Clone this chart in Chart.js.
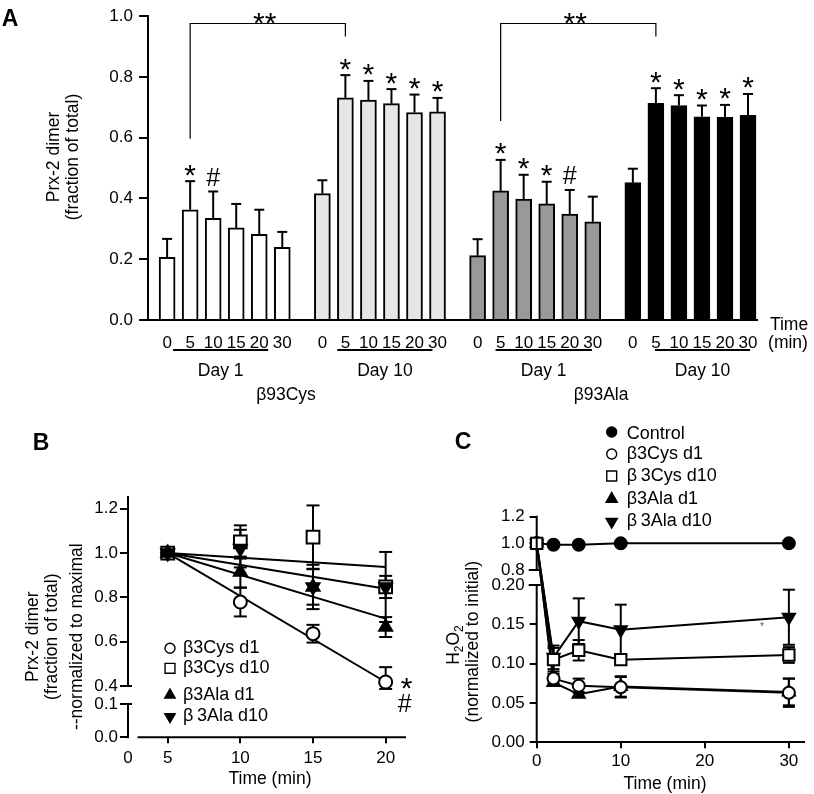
<!DOCTYPE html>
<html>
<head>
<meta charset="utf-8">
<script src="https://cdn.jsdelivr.net/npm/chart.js@4.4.1/dist/chart.umd.min.js"></script>
<style>
  body { margin: 0; background: #fff; width: 814px; height: 794px; position: relative; overflow: hidden; }
  canvas { position: absolute; }
</style>
</head>
<body>
<canvas id="chartA" width="814" height="420" style="left:0;top:0"></canvas>
<canvas id="chartB" width="420" height="374" style="left:0;top:420px"></canvas>
<canvas id="chartC" width="394" height="374" style="left:420px;top:420px"></canvas>
<script>
// ---------- Panel A: Prx-2 dimer bars ----------
const timeLabels = ['0', '5', '10', '15', '20', '30'];
const groupLabels = ['β93Cys', 'β93Ala'];
const dayLabels = ['Day 1', 'Day 10', 'Day 1', 'Day 10'];

const cysDay1 = [0.206, 0.363, 0.335, 0.303, 0.282, 0.239];
const cysDay1Err = [0.061, 0.094, 0.088, 0.079, 0.081, 0.051];
const cysDay10 = [0.416, 0.731, 0.724, 0.712, 0.683, 0.685];
const cysDay10Err = [0.044, 0.075, 0.063, 0.048, 0.059, 0.046];
const alaDay1 = [0.212, 0.425, 0.398, 0.382, 0.349, 0.323];
const alaDay1Err = [0.054, 0.102, 0.080, 0.073, 0.079, 0.083];
const alaDay10 = [0.452, 0.713, 0.706, 0.669, 0.667, 0.674];
const alaDay10Err = [0.046, 0.050, 0.034, 0.037, 0.041, 0.070];

const sigCysDay1 = ['', '*', '#', '', '', ''];
const sigCysDay10 = ['', '*', '*', '*', '*', '*'];
const sigAlaDay1 = ['', '*', '*', '*', '#', ''];
const sigAlaDay10 = ['', '*', '*', '*', '*', '*'];

// ---------- Panel B: decay after maximum ----------
const bTimes = [5, 10, 15, 20];
const bCysD1 = [1.0, 0.779, 0.636, 0.418];
const bCysD1Err = [0, 0.065, 0.04, 0.067];
const bCysD10 = [1.0, 1.05, 1.072, 0.847];
const bCysD10Err = [0, 0.075, 0.143, 0.158];
const bAlaD1 = [1.0, 0.914, 0.847, 0.666];
const bAlaD1Err = [0, 0.07, 0.08, 0.045];
const bAlaD10 = [1.0, 1.02, 0.847, 0.847];
const bAlaD10Err = [0, 0.085, 0.1, 0.05];
const bFitTimes = [5, 20];
const bFitCysD1 = [1.0, 0.418];
const bFitCysD10 = [1.0, 0.937];
const bFitAlaD1 = [1.0, 0.704];
const bFitAlaD10 = [1.0, 0.839];
const bXTicks = [0, 5, 10, 15, 20];
const bYTicks = [0, 0.1, 0.4, 0.6, 0.8, 1.0, 1.2];

// ---------- Panel C: H2O2 ----------
const cTimes = [0, 2, 5, 10, 30];
const cControl = [1.0, 0.99, 0.99, 1.0, 1.0];
const cCysD1 = [1.0, 0.081, 0.072, 0.070, 0.063];
const cCysD1Err = [0, 0.006, 0.009, 0.013, 0.018];
const cCysD10 = [1.0, 0.105, 0.117, 0.105, 0.111];
const cCysD10Err = [0, 0.015, 0.013, 0.003, 0.01];
const cAlaD1 = [1.0, 0.076, 0.061, 0.071, 0.064];
const cAlaD1Err = [0, 0.004, 0.003, 0.013, 0.017];
const cAlaD10 = [1.0, 0.108, 0.154, 0.143, 0.159];
const cAlaD10Err = [0, 0.015, 0.029, 0.032, 0.035];
const cXTicks = [0, 10, 20, 30];
const cYTicks = [0, 0.05, 0.1, 0.15, 0.2, 0.8, 1.0, 1.2];

const FONT = "'Liberation Sans', Arial, Helvetica, sans-serif";
Chart.defaults.font.family = FONT;
Chart.defaults.font.size = 17;
Chart.defaults.color = '#000';
Chart.defaults.animation = false;
Chart.defaults.events = [];
Chart.defaults.plugins.legend.display = false;
Chart.defaults.plugins.tooltip.enabled = false;

// linear scale with piecewise mapping, for the broken axes in B and C
class BrokenScale extends Chart.LinearScale {
    static id = 'broken';
    toDecimal(v) {
        const k = this.options.knots;
        let i = 1;
        while (i < k.length - 1 && v > k[i][0]) i++;
        const [v0, d0] = k[i - 1], [v1, d1] = k[i];
        return d0 + (v - v0) * (d1 - d0) / (v1 - v0);
    }
    getPixelForValue(v) {
        if (v === null || v === undefined || isNaN(v)) return NaN;
        return this.getPixelForDecimal(this.toDecimal(v));
    }
    getValueForPixel(p) {
        const d = this.getDecimalForPixel(p);
        const k = this.options.knots;
        let i = 1;
        while (i < k.length - 1 && d > k[i][1]) i++;
        const [v0, d0] = k[i - 1], [v1, d1] = k[i];
        return v0 + (d - d0) * (v1 - v0) / (d1 - d0);
    }
}
Chart.register(BrokenScale);

// ---------- drawing helpers ----------
function line(ctx, x1, y1, x2, y2) {
    ctx.beginPath(); ctx.moveTo(x1, y1); ctx.lineTo(x2, y2); ctx.stroke();
}
// draw text with its ink centred on (x, yc)
function inkText(ctx, s, x, yc, font, align) {
    ctx.font = font;
    ctx.textAlign = align || 'center';
    ctx.textBaseline = 'alphabetic';
    const m = ctx.measureText(s);
    ctx.fillText(s, x, yc + (m.actualBoundingBoxAscent - m.actualBoundingBoxDescent) / 2);
}
function rotText(ctx, s, xc, yc, font) {
    ctx.save(); ctx.translate(xc, yc); ctx.rotate(-Math.PI / 2);
    inkText(ctx, s, 0, 0, font);
    ctx.restore();
}
function drawSegments(chart, id) {
    const s = chart.scales[id], ctx = chart.ctx;
    const lo = s.options.min, hi = s.options.max;
    ctx.save();
    ctx.strokeStyle = '#000'; ctx.lineWidth = 2;
    s.options.segs.forEach(([a, b]) => {
        if (s.isHorizontal()) {
            line(ctx, s.getPixelForValue(a), s.top, s.getPixelForValue(b), s.top);
        } else {
            const x = s.right;
            line(ctx, x, s.getPixelForValue(a) + 1, x, s.getPixelForValue(b) - 1);
            [a, b].forEach(v => {
                if (v > lo && v < hi) line(ctx, x - 8, s.getPixelForValue(v), x + 4, s.getPixelForValue(v));
            });
        }
    });
    ctx.restore();
}
function errorBars(chart, times, vals, errs, cap) {
    const {ctx, scales: {x, y}} = chart;
    ctx.save();
    ctx.strokeStyle = '#000'; ctx.lineWidth = 2;
    vals.forEach((v, i) => {
        if (!errs[i]) return;
        const px = x.getPixelForValue(times[i]);
        const yt = y.getPixelForValue(v + errs[i]), yb = y.getPixelForValue(v - errs[i]);
        line(ctx, px, yt, px, yb);
        line(ctx, px - cap, yt, px + cap, yt);
        line(ctx, px - cap, yb, px + cap, yb);
    });
    ctx.restore();
}
function legendMarker(ctx, st, x, y, r) {
    ctx.save();
    ctx.fillStyle = st.fill; ctx.strokeStyle = '#000'; ctx.lineWidth = 1.4;
    Chart.helpers.drawPoint(ctx, {pointStyle: st.pointStyle, rotation: st.rotation || 0, radius: r, borderWidth: 1.4}, x, y);
    ctx.restore();
}

// ---------- Panel A ----------
const STEP = 6.74;                       // distance between group starts, in bar slots
const barPos = (g, i) => g * STEP + i;
const groupsA = [
    {vals: cysDay1, err: cysDay1Err, sig: sigCysDay1, color: '#ffffff'},
    {vals: cysDay10, err: cysDay10Err, sig: sigCysDay10, color: '#e6e6e6'},
    {vals: alaDay1, err: alaDay1Err, sig: sigAlaDay1, color: '#999999'},
    {vals: alaDay10, err: alaDay10Err, sig: sigAlaDay10, color: '#000000'}
];
const allBarPos = groupsA.flatMap((grp, g) => grp.vals.map((v, i) => barPos(g, i)));
const dayLineSpan = [[0.26, 4.39], [0.65, 4.78], [0.78, 4.96], [0.96, 5.09]];
const groupLabelPos = [5.16, 18.84];
const brackets = [
    {from: barPos(0, 1), to: barPos(1, 1), left: 0.597, top: 0.976, right: 0.933},
    {from: barPos(2, 1), to: barPos(3, 1), left: 0.655, top: 0.976, right: 0.933}
];

const panelA = {
    id: 'panelA',
    afterDatasetsDraw(chart) {
        const {ctx, scales: {x, y}} = chart;
        ctx.save();
        ctx.strokeStyle = '#000'; ctx.fillStyle = '#000';
        groupsA.forEach((grp, g) => grp.vals.forEach((v, i) => {
            const px = x.getPixelForValue(barPos(g, i));
            const top = y.getPixelForValue(v + grp.err[i]);
            ctx.lineWidth = 2;
            line(ctx, px, y.getPixelForValue(v), px, top);
            line(ctx, px - 5, top, px + 5, top);
            if (grp.sig[i] === '*') inkText(ctx, '*', px, top - 11, `30px ${FONT}`);
            if (grp.sig[i] === '#') inkText(ctx, '#', px, top - 14.5, `25px ${FONT}`);
        }));
        ctx.lineWidth = 1.2;
        brackets.forEach(b => {
            const x1 = x.getPixelForValue(b.from), x2 = x.getPixelForValue(b.to);
            const yt = y.getPixelForValue(b.top);
            ctx.beginPath();
            ctx.moveTo(x1, y.getPixelForValue(b.left)); ctx.lineTo(x1, yt);
            ctx.lineTo(x2, yt); ctx.lineTo(x2, y.getPixelForValue(b.right));
            ctx.stroke();
            inkText(ctx, '**', (x1 + x2) / 2 - 3, yt - 5, `30px ${FONT}`);
        });
        ctx.lineWidth = 1.8;
        dayLineSpan.forEach(([a, b], g) => {
            const x1 = x.getPixelForValue(g * STEP + a), x2 = x.getPixelForValue(g * STEP + b);
            line(ctx, x1, x.top + 30, x2, x.top + 30);
            inkText(ctx, dayLabels[g], (x1 + x2) / 2, x.top + 51, `17.5px ${FONT}`);
        });
        groupLabels.forEach((s, k) => inkText(ctx, s, x.getPixelForValue(groupLabelPos[k]), x.top + 75, `17.5px ${FONT}`));
        inkText(ctx, 'Time', 789, x.top + 3, `17.5px ${FONT}`);
        inkText(ctx, '(min)', 788, x.top + 23, `17.5px ${FONT}`);
        rotText(ctx, 'Prx-2 dimer', 52, 157, `17.5px ${FONT}`);
        rotText(ctx, '(fraction of total)', 73, 157, `17.5px ${FONT}`);
        inkText(ctx, 'A', 10, 17.5, `bold 23px ${FONT}`);
        ctx.restore();
    }
};

new Chart(document.getElementById('chartA'), {
    type: 'bar',
    data: {
        datasets: groupsA.map((grp, g) => ({
            data: grp.vals.map((v, i) => ({x: barPos(g, i), y: v})),
            backgroundColor: grp.color,
            borderColor: '#000',
            borderWidth: 2,
            barThickness: 16,
            grouped: false
        }))
    },
    options: {
        responsive: false,
        layout: {padding: {left: 0, right: 57, top: 10, bottom: 0}},
        scales: {
            x: {
                type: 'linear', min: -0.83, max: 25.61, offset: false,
                afterBuildTicks: s => { s.ticks = allBarPos.map(v => ({value: v})); },
                ticks: {autoSkip: false, maxRotation: 0, padding: 5, callback: (v, i) => timeLabels[i % 6]},
                grid: {display: false, offset: false},
                border: {display: true, color: '#000', width: 2},
                afterFit: s => { s.height = 100; }
            },
            y: {
                type: 'linear', min: 0, max: 1,
                ticks: {stepSize: 0.2, padding: 6, callback: v => v.toFixed(1)},
                grid: {drawOnChartArea: false, tickLength: 9, color: '#000', lineWidth: 2},
                border: {display: true, color: '#000', width: 2},
                afterFit: s => { s.width = 148; }
            }
        }
    },
    plugins: [panelA]
});

// ---------- Panel B ----------
const markerCysD1 = {pointStyle: 'circle', fill: '#fff', r: 6.5};
const markerCysD10 = {pointStyle: 'rect', fill: '#fff', r: 9};
const markerAlaD1 = {pointStyle: 'triangle', fill: '#000', r: 7.5, rotation: 0};
const markerAlaD10 = {pointStyle: 'triangle', fill: '#000', r: 7.5, rotation: 180};
const markerControl = {pointStyle: 'circle', fill: '#000', r: 6.5};

const bSeries = [
    {vals: bAlaD10, err: bAlaD10Err, st: markerAlaD10},
    {vals: bAlaD1, err: bAlaD1Err, st: markerAlaD1},
    {vals: bCysD10, err: bCysD10Err, st: markerCysD10},
    {vals: bCysD1, err: bCysD1Err, st: markerCysD1}
];
const bFits = [bFitCysD1, bFitCysD10, bFitAlaD1, bFitAlaD10];
const bLegend = [
    {text: 'β3Cys d1', st: markerCysD1, r: 5, y: 228.3},
    {text: 'β3Cys d10', st: markerCysD10, r: 7, y: 248.3},
    {text: 'β3Ala d1', st: markerAlaD1, r: 6, y: 275},
    {text: 'β\u20093Ala d10', st: markerAlaD10, r: 6, y: 296.7}
];

const panelB = {
    id: 'panelB',
    beforeDatasetsDraw(chart) {
        bSeries.forEach(s => errorBars(chart, bTimes, s.vals, s.err, 6.5));
    },
    afterDraw(chart) {
        const ctx = chart.ctx;
        drawSegments(chart, 'x');
        drawSegments(chart, 'y');
        ctx.save();
        ctx.fillStyle = '#000';
        bLegend.forEach(e => {
            legendMarker(ctx, e.st, 170, e.y, e.r);
            inkText(ctx, e.text, 183, e.y, `18px ${FONT}`, 'left');
        });
        const xs = chart.scales.x, ys = chart.scales.y;
        inkText(ctx, '*', xs.getPixelForValue(20) + 21, ys.getPixelForValue(bCysD1[3]) + 1, `30px ${FONT}`);
        inkText(ctx, '#', xs.getPixelForValue(20) + 19, ys.getPixelForValue(bCysD1[3]) + 21, `25px ${FONT}`);
        inkText(ctx, 'Time (min)', 270, 359, `17.5px ${FONT}`);
        rotText(ctx, 'Prx-2 dimer', 31.7, 216.7, `17.5px ${FONT}`);
        rotText(ctx, '(fraction of total)', 52.3, 216.7, `17.5px ${FONT}`);
        rotText(ctx, '--normalized to maximal', 75, 216.7, `17.5px ${FONT}`);
        inkText(ctx, 'B', 41, 21, `bold 23px ${FONT}`);
        ctx.restore();
    }
};

new Chart(document.getElementById('chartB'), {
    type: 'line',
    data: {
        datasets: [
            ...bSeries.map((s, k) => ({
                data: s.vals.map((v, i) => ({x: bTimes[i], y: v})),
                showLine: false,
                pointStyle: s.st.pointStyle,
                rotation: s.st.rotation || 0,
                pointRadius: s.st.r,
                pointBackgroundColor: s.st.fill,
                pointBorderColor: '#000',
                pointBorderWidth: 2,
                order: k,
                clip: false
            })),
            ...bFits.map(f => ({
                data: f.map((v, i) => ({x: bFitTimes[i], y: v})),
                borderColor: '#000',
                borderWidth: 2,
                pointRadius: 0,
                tension: 0,
                order: 10,
                clip: false
            }))
        ]
    },
    options: {
        responsive: false,
        layout: {padding: {left: 0, right: 14, top: 77, bottom: 0}},
        scales: {
            x: {
                type: 'broken', min: 0, max: 21.4,
                knots: [[0, 0], [5, 0.1428], [21.4, 1]],
                segs: [[1.2, 21.4]],
                afterBuildTicks: s => { s.ticks = bXTicks.map(v => ({value: v})); },
                ticks: {autoSkip: false, maxRotation: 0, padding: 4.5, callback: v => String(v)},
                grid: {drawOnChartArea: false, tickLength: 6, lineWidth: 2,
                       color: c => (c.tick && c.tick.value === 0) ? 'rgba(0,0,0,0)' : '#000'},
                border: {display: false},
                afterFit: s => { s.height = 56.7; }
            },
            y: {
                type: 'broken', min: 0, max: 1.253,
                knots: [[0, 0], [0.1, 0.1386], [0.4, 0.2135], [1.253, 1]],
                segs: [[0, 0.1], [0.4, 1.253]],
                afterBuildTicks: s => { s.ticks = bYTicks.map(v => ({value: v})); },
                ticks: {padding: 2, callback: v => v.toFixed(1)},
                grid: {drawOnChartArea: false, tickLength: 8, color: '#000', lineWidth: 2},
                border: {display: false},
                afterFit: s => { s.width = 128; }
            }
        }
    },
    plugins: [panelB]
});

// ---------- Panel C ----------
const cSeries = [
    {vals: cCysD10, err: cCysD10Err, st: markerCysD10},
    {vals: cCysD1, err: cCysD1Err, st: markerCysD1},
    {vals: cAlaD1, err: cAlaD1Err, st: markerAlaD1},
    {vals: cAlaD10, err: cAlaD10Err, st: markerAlaD10},
    {vals: cControl, err: [0, 0, 0, 0, 0], st: markerControl}
];
const cLegend = [
    {text: 'Control', st: markerControl, r: 5, y: 12},
    {text: 'β3Cys d1', st: markerCysD1, r: 5, y: 34},
    {text: 'β\u20093Cys d10', st: markerCysD10, r: 7, y: 56},
    {text: 'β3Ala d1', st: markerAlaD1, r: 6.5, y: 79},
    {text: 'β\u20093Ala d10', st: markerAlaD10, r: 6.5, y: 101.7}
];

const panelC = {
    id: 'panelC',
    beforeDatasetsDraw(chart) {
        cSeries.forEach(s => errorBars(chart, cTimes, s.vals, s.err, 6));
    },
    afterDraw(chart) {
        const ctx = chart.ctx;
        drawSegments(chart, 'y');
        ctx.save();
        ctx.fillStyle = '#000';
        cLegend.forEach(e => {
            legendMarker(ctx, e.st, 191.7, e.y, e.r);
            inkText(ctx, e.text, 206.7, e.y, `18px ${FONT}`, 'left');
        });
        ctx.fillStyle = '#555';
        inkText(ctx, '*', 342, 204, `10px ${FONT}`);
        ctx.fillStyle = '#000';
        inkText(ctx, 'Time (min)', 245, 364, `17.5px ${FONT}`);
        rotText(ctx, '(normalized to initial)', 53.3, 221.7, `17.5px ${FONT}`);
        // H2O2 with subscripts, rotated
        ctx.save();
        ctx.translate(33, 225); ctx.rotate(-Math.PI / 2);
        const parts = [['H', 0], ['2', 1], ['O', 0], ['2', 1]];
        const fMain = `17.5px ${FONT}`, fSub = `12px ${FONT}`;
        const w = parts.map(([s, sub]) => { ctx.font = sub ? fSub : fMain; return ctx.measureText(s).width; });
        let px = -w.reduce((a, b) => a + b, 0) / 2;
        ctx.textAlign = 'left'; ctx.textBaseline = 'alphabetic';
        parts.forEach(([s, sub], i) => {
            ctx.font = sub ? fSub : fMain;
            ctx.fillText(s, px, sub ? 10 : 6);
            px += w[i];
        });
        ctx.restore();
        inkText(ctx, 'C', 43, 20.5, `bold 23px ${FONT}`);
        ctx.restore();
    }
};

new Chart(document.getElementById('chartC'), {
    type: 'line',
    data: {
        datasets: cSeries.map((s, k) => ({
            data: s.vals.map((v, i) => ({x: cTimes[i], y: v})),
            borderColor: '#000',
            borderWidth: 2,
            tension: 0,
            pointStyle: s.st.pointStyle,
            rotation: s.st.rotation || 0,
            pointRadius: s.st.pointStyle === 'rect' ? 8 : (s.st.pointStyle === 'triangle' ? 7 : 6),
            pointBackgroundColor: s.st.fill,
            pointBorderColor: '#000',
            pointBorderWidth: 2,
            order: k,
            clip: false
        }))
    },
    options: {
        responsive: false,
        layout: {padding: {left: 0, right: 6.3, top: 96.7, bottom: 0}},
        scales: {
            x: {
                type: 'linear', min: 0, max: 31.8,
                afterBuildTicks: s => { s.ticks = cXTicks.map(v => ({value: v})); },
                ticks: {autoSkip: false, maxRotation: 0, padding: 3.2, callback: v => String(v)},
                grid: {drawOnChartArea: false, tickLength: 6, color: '#000', lineWidth: 2},
                border: {display: true, color: '#000', width: 2},
                afterFit: s => { s.height = 51.7; }
            },
            y: {
                type: 'broken', min: 0, max: 1.2,
                knots: [[0, 0], [0.2, 0.6973], [0.8, 0.7637], [1.2, 1]],
                segs: [[0, 0.2], [0.8, 1.2]],
                afterBuildTicks: s => { s.ticks = cYTicks.map(v => ({value: v})); },
                ticks: {padding: 5, callback: v => v < 0.5 ? v.toFixed(2) : v.toFixed(1)},
                grid: {drawOnChartArea: false, tickLength: 7, color: '#000', lineWidth: 2},
                border: {display: false},
                afterFit: s => { s.width = 116.7; }
            }
        }
    },
    plugins: [panelC]
});
</script>
</body>
</html>
